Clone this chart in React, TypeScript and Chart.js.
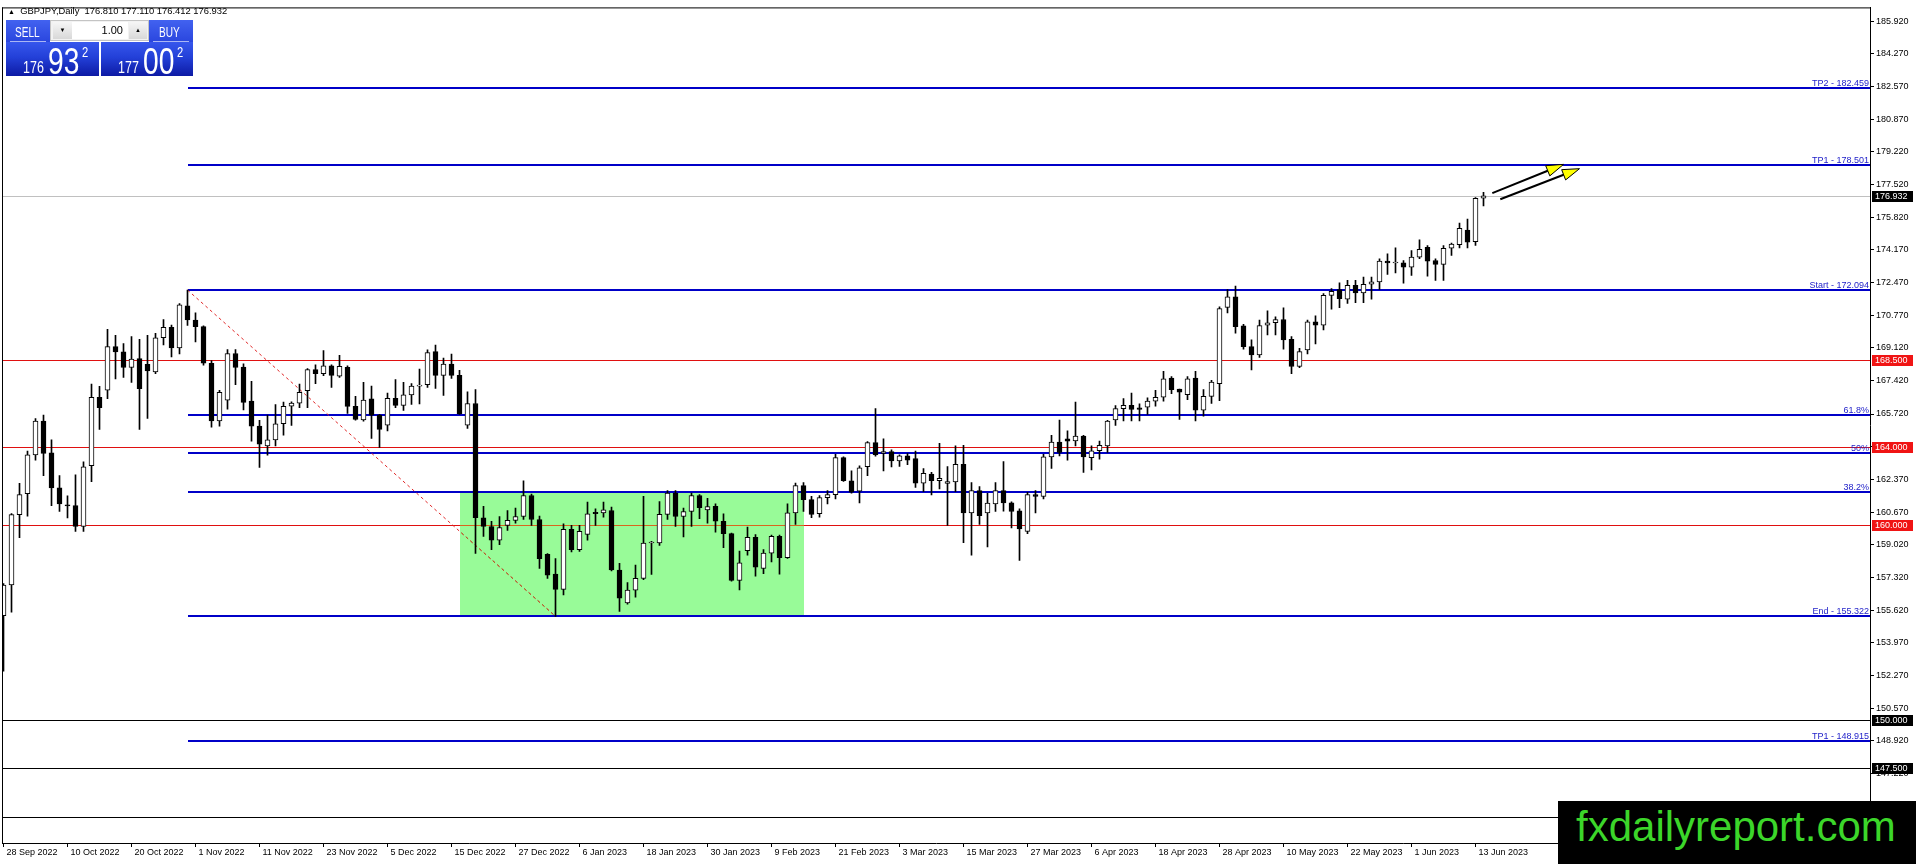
import React, { useEffect, useRef } from "react";
import { Chart, registerables } from "chart.js";

Chart.register(...registerables);

// ---------------- DATA ----------------
const SYMBOL_TITLE = "GBPJPY,Daily  176.810 177.110 176.412 176.932";

const X_LABELS = [
  "28 Sep 2022", "10 Oct 2022", "20 Oct 2022", "1 Nov 2022", "11 Nov 2022", "23 Nov 2022",
  "5 Dec 2022", "15 Dec 2022", "27 Dec 2022", "6 Jan 2023", "18 Jan 2023", "30 Jan 2023",
  "9 Feb 2023", "21 Feb 2023", "3 Mar 2023", "15 Mar 2023", "27 Mar 2023", "6 Apr 2023",
  "18 Apr 2023", "28 Apr 2023", "10 May 2023", "22 May 2023", "1 Jun 2023", "13 Jun 2023",
];
const BARS_PER_LABEL = 8;

const Y_TICKS = [
  185.92, 184.27, 182.57, 180.87, 179.22, 177.52, 175.82, 174.17, 172.47, 170.77, 169.12,
  167.42, 165.72, 164.07, 162.37, 160.67, 159.02, 157.32, 155.62, 153.97, 152.27, 150.57,
  148.92, 147.22, 145.52, 143.87,
];

const OPEN = [
  155.35, 156.93, 160.55, 161.63, 163.62, 165.36, 163.72, 161.93, 161.05, 161.01,
  159.94, 163.06, 166.58, 166.94, 169.18, 168.91, 168.11, 168.57, 168.28, 167.89,
  169.64, 170.17, 169.12, 171.28, 170.55, 170.21, 168.33, 165.36, 166.43, 168.83,
  168.13, 166.39, 165.10, 164.08, 164.39, 165.22, 166.12, 166.28, 166.92, 168.00,
  167.79, 168.20, 167.66, 168.12, 166.11, 165.41, 166.50, 165.66, 165.15, 166.53,
  166.16, 166.70, 167.15, 167.23, 168.93, 167.71, 168.29, 167.71, 165.15, 166.26,
  160.39, 159.94, 159.23, 160.00, 160.25, 160.45, 161.53, 160.30, 158.51, 157.49,
  156.71, 159.79, 158.75, 159.53, 160.67, 160.64, 160.76, 157.70, 156.01, 156.67,
  157.27, 159.09, 159.09, 160.56, 161.65, 160.45, 160.71, 161.53, 160.79, 160.98,
  160.21, 159.57, 157.17, 158.70, 159.38, 157.78, 158.57, 159.43, 158.34, 160.64,
  162.04, 161.32, 160.60, 161.42, 161.58, 163.48, 162.29, 161.75, 163.01, 164.25,
  163.69, 163.79, 163.31, 163.57, 163.43, 162.17, 162.63, 162.29, 162.15, 162.23,
  163.14, 160.64, 161.78, 160.64, 161.10, 161.78, 161.15, 160.75, 159.69, 161.58,
  161.48, 163.52, 164.28, 164.45, 164.34, 164.59, 163.48, 163.83, 164.08, 165.41,
  166.00, 166.17, 166.04, 166.07, 166.38, 166.58, 167.57, 167.00, 166.72, 167.57,
  165.92, 166.63, 167.28, 171.20, 171.74, 170.25, 169.18, 168.76, 170.29, 170.41,
  170.58, 169.56, 168.16, 169.02, 170.46, 170.29, 171.82, 172.11, 171.62, 172.34,
  171.94, 172.39, 172.51, 173.58, 173.48, 173.49, 173.27, 173.78, 174.29, 173.61,
  173.41, 174.24, 174.43, 175.18, 174.58, 176.81,
];

const HIGH = [
  157.00, 160.60, 162.16, 163.82, 165.49, 165.66, 164.39, 162.55, 161.52, 162.60,
  163.26, 167.26, 167.14, 170.07, 169.76, 169.34, 169.70, 169.56, 169.76, 169.87,
  170.58, 170.29, 171.40, 172.094, 170.92, 170.25, 168.47, 166.94, 169.03, 169.03,
  168.30, 167.40, 165.40, 165.66, 166.21, 166.33, 166.34, 167.26, 168.05, 168.25,
  168.98, 168.25, 168.73, 168.20, 166.63, 167.35, 167.15, 165.70, 166.80, 167.49,
  167.35, 167.28, 168.03, 169.02, 169.26, 168.60, 168.80, 167.96, 166.86, 166.98,
  160.97, 160.20, 160.45, 160.76, 160.88, 162.29, 161.60, 160.47, 158.55, 158.29,
  160.08, 160.00, 160.00, 161.19, 160.84, 161.19, 160.93, 158.04, 157.05, 157.95,
  161.49, 159.18, 161.22, 161.78, 161.78, 160.88, 161.65, 161.58, 161.39, 161.10,
  160.59, 159.60, 158.68, 159.91, 159.52, 158.75, 159.50, 159.50, 161.10, 162.17,
  162.20, 161.49, 161.53, 161.78, 163.65, 163.52, 162.80, 163.06, 164.30, 166.00,
  164.45, 163.88, 163.62, 163.69, 163.82, 162.92, 162.72, 164.21, 163.02, 164.08,
  164.11, 162.20, 161.99, 161.64, 162.20, 163.28, 161.20, 160.84, 161.70, 161.78,
  163.65, 164.62, 165.41, 164.85, 166.33, 164.62, 164.08, 164.33, 165.40, 166.15,
  166.51, 166.80, 166.24, 166.55, 166.94, 167.91, 167.65, 167.00, 167.65, 167.91,
  166.97, 167.45, 171.23, 172.11, 172.30, 170.33, 169.53, 170.55, 171.02, 170.72,
  171.18, 169.70, 169.10, 170.55, 170.77, 171.91, 172.17, 172.46, 172.59, 172.59,
  172.76, 172.76, 173.70, 173.95, 174.26, 173.61, 174.12, 174.67, 174.38, 173.70,
  174.38, 174.50, 175.54, 175.74, 176.85, 177.11,
];

const LOW = [
  152.50, 155.53, 159.36, 160.47, 163.35, 162.55, 161.01, 160.71, 160.38, 159.69,
  159.69, 162.24, 164.93, 166.51, 167.53, 167.60, 167.35, 164.93, 165.49, 167.79,
  169.27, 168.66, 168.81, 170.27, 169.42, 168.23, 165.05, 165.10, 165.97, 167.23,
  165.93, 164.33, 162.97, 163.60, 164.08, 164.63, 165.14, 166.04, 166.04, 167.28,
  167.69, 167.09, 167.60, 165.75, 165.40, 165.35, 164.47, 164.00, 164.85, 166.04,
  165.90, 166.21, 166.24, 167.09, 167.04, 166.67, 167.55, 165.70, 164.98, 158.55,
  159.43, 158.75, 159.01, 159.74, 160.11, 160.30, 160.00, 157.78, 157.27, 155.322,
  156.42, 158.63, 158.66, 159.23, 160.00, 160.42, 157.65, 155.57, 155.95, 156.30,
  157.20, 157.48, 158.97, 160.30, 159.94, 159.40, 159.94, 160.34, 160.11, 159.65,
  158.85, 157.13, 156.68, 158.46, 157.39, 157.52, 158.12, 157.49, 158.30, 160.05,
  160.71, 160.39, 160.42, 161.10, 161.36, 162.25, 161.65, 161.15, 162.55, 163.55,
  162.79, 163.00, 163.02, 163.11, 161.95, 161.73, 161.56, 161.87, 160.00, 161.73,
  159.11, 158.46, 160.04, 158.89, 160.71, 160.73, 159.87, 158.20, 159.57, 160.64,
  161.36, 162.92, 163.57, 163.35, 164.08, 162.72, 162.84, 163.40, 163.74, 165.13,
  165.36, 165.36, 165.36, 165.70, 166.12, 166.38, 166.77, 165.44, 166.46, 165.36,
  165.61, 166.26, 166.41, 170.92, 169.87, 169.05, 167.99, 168.63, 169.78, 169.78,
  169.05, 167.79, 168.10, 168.81, 169.32, 170.04, 171.11, 171.18, 171.40, 171.44,
  171.44, 171.62, 172.13, 172.90, 172.97, 172.45, 172.85, 173.70, 172.80, 172.59,
  172.59, 173.87, 174.26, 174.26, 174.38, 176.412,
];

const CLOSE = [
  156.93, 160.55, 161.58, 163.62, 165.36, 163.70, 161.92, 161.10, 161.00, 159.94,
  163.00, 166.58, 166.04, 169.18, 168.91, 168.11, 168.55, 167.02, 167.94, 169.64,
  170.17, 169.12, 171.33, 170.55, 170.21, 168.33, 165.36, 166.84, 168.83, 168.11,
  166.32, 165.10, 164.17, 164.39, 165.22, 166.12, 166.28, 166.84, 168.00, 167.79,
  168.20, 167.71, 168.17, 166.11, 165.44, 166.43, 165.66, 164.93, 166.53, 166.16,
  166.70, 167.15, 167.20, 168.88, 167.71, 168.29, 167.71, 165.73, 166.26, 160.39,
  159.94, 159.23, 159.88, 160.25, 160.45, 161.53, 160.30, 158.29, 157.44, 156.71,
  159.79, 158.75, 159.69, 160.59, 160.60, 160.79, 157.70, 156.25, 156.67, 157.27,
  159.09, 159.10, 160.56, 161.65, 160.45, 160.71, 161.53, 160.90, 160.96, 160.21,
  159.57, 157.17, 158.07, 159.38, 157.85, 158.57, 159.43, 158.34, 160.64, 162.04,
  161.32, 160.56, 161.42, 161.58, 163.48, 162.29, 161.70, 162.96, 164.25, 163.62,
  163.79, 163.31, 163.57, 163.35, 162.17, 162.67, 162.29, 162.41, 162.25, 163.14,
  160.64, 161.78, 160.50, 161.14, 161.78, 161.15, 160.71, 159.82, 161.58, 161.48,
  163.52, 164.28, 163.74, 164.32, 164.59, 163.52, 163.83, 164.11, 165.36, 166.00,
  166.17, 165.95, 165.95, 166.38, 166.58, 167.53, 166.97, 166.84, 167.53, 165.92,
  166.63, 167.36, 171.14, 171.74, 170.21, 169.18, 168.76, 170.26, 170.41, 170.58,
  169.53, 168.16, 168.93, 170.46, 170.29, 171.82, 172.03, 171.65, 172.34, 171.94,
  172.39, 172.51, 173.58, 173.48, 173.50, 173.27, 173.78, 174.18, 173.58, 173.41,
  174.24, 174.46, 175.27, 174.55, 176.80, 176.932,
];

// Fibonacci expansion levels and their descriptions
const FIB_LEVELS = [182.459, 178.501, 172.094, 165.687, 163.708, 161.729, 155.322, 148.915];
const FIB_TEXT = ["TP2 - 182.459", "TP1 - 178.501", "Start - 172.094", "61.8%", "50%", "38.2%", "End - 155.322", "TP1 - 148.915"];
const FIB_START_BAR = 23;
const FIB_END_BAR = 69;
const FIB_START_PRICE = 172.094;
const FIB_END_PRICE = 155.322;

const RED_LEVELS = [168.5, 164.0, 160.0];
const BLACK_LEVELS = [150.0, 147.5, 145.0];
const BID_PRICE = 176.932;

// rectangle (bar from, bar to) and (price top, price bottom)
const BOX_BARS = [57, 100];
const BOX_PRICES = [161.729, 155.322];

// arrows: [barFrom, priceFrom, barTo, priceTo]
const ARROWS = [
  [186.1, 177.07, 195.0, 178.55],
  [187.1, 176.76, 197.0, 178.33],
];

const AXIS_TAG_VALUES = [176.932, 168.5, 164.0, 160.0, 150.0, 147.5, 145.0];
const AXIS_TAG_KIND = ["bid", "red", "red", "red", "black", "black", "black"];

// ---------------- STYLE ----------------
const FONT = "'Liberation Sans', Arial, sans-serif";
const BLUE = "#0000c8";
const RED = "#e01010";

const Y_MIN = 143.67;
const Y_MAX = 186.62;
const X_MIN = -0.1875;
const X_MAX = 233.3125;

const overlayPlugin = {
  id: "overlay",
  beforeDatasetsDraw(chart: any) {
    const { ctx, chartArea: a, scales } = chart;
    const x = scales.x;
    const y = scales.y;
    ctx.save();
    ctx.beginPath();
    ctx.rect(a.left, a.top, a.right - a.left, a.bottom - a.top);
    ctx.clip();

    // green rectangle
    const bx0 = Math.round(x.getPixelForValue(BOX_BARS[0]));
    const bx1 = Math.round(x.getPixelForValue(BOX_BARS[1]));
    const by0 = Math.round(y.getPixelForValue(BOX_PRICES[0]));
    const by1 = Math.round(y.getPixelForValue(BOX_PRICES[1]));
    ctx.fillStyle = "#98fb98";
    ctx.fillRect(bx0, by0, bx1 - bx0, by1 - by0);

    const hline = (v: number, x0: number, x1: number, color: string, w: number) => {
      const py = Math.round(y.getPixelForValue(v));
      ctx.fillStyle = color;
      ctx.fillRect(x0, w === 1 ? py : py - 1, x1 - x0, w);
    };

    hline(BID_PRICE, a.left, a.right, "#c0c0c0", 1);
    BLACK_LEVELS.forEach((v) => hline(v, a.left, a.right, "#000000", 1));
    RED_LEVELS.forEach((v) => hline(v, a.left, a.right, RED, 1));
    RED_LEVELS.forEach((v) => {
      if (v < BOX_PRICES[0] && v > BOX_PRICES[1]) hline(v, bx0, bx1, "#d8661e", 1);
    });

    const fx = Math.round(x.getPixelForValue(FIB_START_BAR));
    FIB_LEVELS.forEach((v) => hline(v, fx, a.right, BLUE, 2));

    // diagonal dashed trend line
    const dx0 = x.getPixelForValue(FIB_START_BAR);
    const dy0 = y.getPixelForValue(FIB_START_PRICE);
    const dx1 = x.getPixelForValue(FIB_END_BAR);
    const dy1 = y.getPixelForValue(FIB_END_PRICE);
    ctx.setLineDash([3, 3]);
    ctx.lineWidth = 1;
    ctx.strokeStyle = "#e02828";
    ctx.beginPath();
    ctx.moveTo(dx0, dy0);
    ctx.lineTo(dx1, dy1);
    ctx.stroke();
    ctx.save();
    ctx.beginPath();
    ctx.rect(bx0, by0, bx1 - bx0, by1 - by0);
    ctx.clip();
    ctx.strokeStyle = "#b0602a";
    ctx.beginPath();
    ctx.moveTo(dx0, dy0);
    ctx.lineTo(dx1, dy1);
    ctx.stroke();
    ctx.restore();
    ctx.setLineDash([]);

    // level descriptions
    ctx.font = `9px ${FONT}`;
    ctx.fillStyle = "#1c1cc8";
    ctx.textAlign = "right";
    ctx.textBaseline = "alphabetic";
    FIB_LEVELS.forEach((v, i) => {
      const py = Math.round(y.getPixelForValue(v));
      ctx.fillText(FIB_TEXT[i], a.right - 1, py - 2);
    });

    ctx.restore();
  },
  afterDatasetsDraw(chart: any) {
    const { ctx, scales } = chart;
    const x = scales.x;
    const y = scales.y;
    ctx.save();
    ARROWS.forEach(([b0, p0, b1, p1]) => {
      const x0 = x.getPixelForValue(b0);
      const y0 = y.getPixelForValue(p0);
      const x1 = x.getPixelForValue(b1);
      const y1 = y.getPixelForValue(p1);
      const len = Math.hypot(x1 - x0, y1 - y0);
      const ux = (x1 - x0) / len;
      const uy = (y1 - y0) / len;
      const head = 17;
      const half = 5.5;
      const bxp = x1 - ux * head;
      const byp = y1 - uy * head;
      ctx.strokeStyle = "#000";
      ctx.lineWidth = 2;
      ctx.beginPath();
      ctx.moveTo(x0, y0);
      ctx.lineTo(bxp, byp);
      ctx.stroke();
      ctx.beginPath();
      ctx.moveTo(x1, y1);
      ctx.lineTo(bxp - uy * half, byp + ux * half);
      ctx.lineTo(bxp + uy * half, byp - ux * half);
      ctx.closePath();
      ctx.fillStyle = "#ffff00";
      ctx.fill();
      ctx.lineWidth = 1;
      ctx.stroke();
    });
    ctx.restore();
  },
  afterDraw(chart: any) {
    const { ctx, chartArea: a, scales } = chart;
    const y = scales.y;
    ctx.save();
    ctx.fillStyle = "#000";
    ctx.fillRect(a.left, a.top, 1, a.bottom - a.top);
    ctx.fillRect(a.left, a.top, a.right - a.left, 1);
    ctx.font = `9px ${FONT}`;
    ctx.textAlign = "left";
    ctx.textBaseline = "middle";
    AXIS_TAG_VALUES.forEach((v, i) => {
      const py = Math.round(y.getPixelForValue(v));
      const kind = AXIS_TAG_KIND[i];
      ctx.fillStyle = kind === "red" ? "#f01414" : "#000000";
      ctx.fillRect(a.right + 2, py - 5, 41, 11);
      ctx.fillStyle = "#ffffff";
      ctx.fillText(v.toFixed(3), a.right + 5, py + 0.5);
    });
    ctx.restore();
  },
};

// condensed text: regular font squeezed horizontally
function Squeeze({ left, top, size, sx, children }: { left: number; top: number; size: number; sx: number; children: string }) {
  return (
    <div
      style={{
        position: "absolute",
        left,
        top,
        font: `${size}px ${FONT}`,
        lineHeight: `${size}px`,
        whiteSpace: "nowrap",
        transform: `scaleX(${sx})`,
        transformOrigin: "0 0",
      }}
    >
      {children}
    </div>
  );
}

function PriceBox({ left, width, small, big, sup }: { left: number; width: number; small: string; big: string; sup: string }) {
  return (
    <div
      style={{
        position: "absolute",
        left,
        top: 42,
        width,
        height: 34,
        background: "linear-gradient(to bottom, #3656ec 0%, #2340d8 45%, #0d1aa4 100%)",
        color: "#fff",
        overflow: "hidden",
      }}
    >
      <Squeeze left={17} top={18} size={16} sx={0.78}>{small}</Squeeze>
      <Squeeze left={42} top={1} size={37} sx={0.76}>{big}</Squeeze>
      <Squeeze left={76} top={3} size={14} sx={0.8}>{sup}</Squeeze>
    </div>
  );
}

function HeaderBox({ left, label, textLeft }: { left: number; label: string; textLeft: number }) {
  return (
    <div
      style={{
        position: "absolute",
        left,
        top: 20,
        width: 44,
        height: 22,
        background: "linear-gradient(to bottom, #4262f0 0%, #2a46de 100%)",
        color: "#fff",
      }}
    >
      <Squeeze left={textLeft} top={5} size={14} sx={0.72}>{label}</Squeeze>
      <div style={{ position: "absolute", left: 4, right: 4, top: 21, height: 1, background: "#aab6f4" }} />
    </div>
  );
}

function TradePanel() {
  const btn = {
    position: "absolute" as const,
    top: 1,
    height: 17,
    background: "linear-gradient(#f6f6f6, #d8d8d8)",
    font: `6px ${FONT}`,
    lineHeight: "17px",
    textAlign: "center" as const,
    color: "#000",
  };
  return (
    <>
      <div
        style={{
          position: "absolute",
          left: 8,
          top: 5,
          font: `9.4px ${FONT}`,
          lineHeight: "11px",
          color: "#000",
          whiteSpace: "pre",
        }}
      >
        <span style={{ fontSize: 7 }}>▲</span>
        {"  " + SYMBOL_TITLE}
      </div>
      <HeaderBox left={6} label="SELL" textLeft={9} />
      <HeaderBox left={149} label="BUY" textLeft={10} />
      <div
        style={{
          position: "absolute",
          left: 50,
          top: 20,
          width: 99,
          height: 21,
          boxSizing: "border-box",
          background: "#f2f2f2",
          border: "1px solid #c4c4c4",
        }}
      >
        <div style={{ ...btn, left: 2, width: 19 }}>▼</div>
        <div
          style={{
            position: "absolute",
            left: 21,
            top: 1,
            width: 56,
            height: 17,
            background: "#fff",
            font: `11px ${FONT}`,
            lineHeight: "17px",
            textAlign: "right",
            paddingRight: 5,
            boxSizing: "border-box",
            color: "#000",
          }}
        >
          1.00
        </div>
        <div style={{ ...btn, left: 78, width: 18 }}>▲</div>
      </div>
      <PriceBox left={6} width={93} small="176" big="93" sup="2" />
      <PriceBox left={101} width={92} small="177" big="00" sup="2" />
    </>
  );
}

export default function App() {
  const canvasRef = useRef<HTMLCanvasElement | null>(null);

  useEffect(() => {
    const canvas = canvasRef.current;
    if (!canvas) return;
    const bodies = OPEN.map((o, i) => ({ x: i, y: [o, CLOSE[i]] }));
    const wicks = LOW.map((l, i) => ({ x: i, y: [l, HIGH[i]] }));
    const chart = new Chart(canvas, {
      type: "bar",
      data: {
        datasets: [
          {
            label: "body",
            data: bodies as any,
            backgroundColor: (c: any) => (CLOSE[c.dataIndex] >= OPEN[c.dataIndex] ? "#ffffff" : "#000000"),
            borderColor: "#000000",
            borderWidth: 1,
            borderSkipped: false,
            barThickness: 5,
            minBarLength: 1,
            grouped: false,
            order: 0,
          } as any,
          {
            label: "wick",
            data: wicks as any,
            backgroundColor: "#000000",
            borderWidth: 0,
            barThickness: 1,
            grouped: false,
            order: 1,
          } as any,
        ],
      },
      options: {
        animation: false,
        responsive: false,
        devicePixelRatio: 1,
        events: [],
        layout: { padding: { left: 2, top: 2, right: 0, bottom: 0 } },
        plugins: { legend: { display: false }, tooltip: { enabled: false }, title: { display: false } },
        scales: {
          x: {
            type: "linear",
            min: X_MIN,
            max: X_MAX,
            offset: false,
            grid: { display: true, drawOnChartArea: false, drawTicks: true, tickLength: 4, color: "#000", offset: false },
            border: { display: true, color: "#000", width: 1 },
            ticks: {
              autoSkip: false,
              maxRotation: 0,
              minRotation: 0,
              align: "start",
              labelOffset: 3,
              padding: 0,
              color: "#000",
              font: { family: FONT, size: 9 },
              callback: (v: any) => X_LABELS[Math.round(Number(v) / BARS_PER_LABEL)] ?? "",
            },
            afterBuildTicks: (s: any) => {
              s.ticks = X_LABELS.map((_, k) => ({ value: k * BARS_PER_LABEL }));
            },
            afterFit: (s: any) => {
              s.height = 21;
            },
          } as any,
          y: {
            type: "linear",
            position: "right",
            min: Y_MIN,
            max: Y_MAX,
            grid: { display: true, drawOnChartArea: false, drawTicks: true, tickLength: 4, color: "#000" },
            border: { display: true, color: "#000", width: 1 },
            ticks: {
              padding: 2,
              color: "#000",
              font: { family: FONT, size: 9 },
              callback: (v: any) => Number(v).toFixed(3),
            },
            afterBuildTicks: (s: any) => {
              s.ticks = Y_TICKS.map((v) => ({ value: v }));
            },
            afterFit: (s: any) => {
              s.width = 46;
            },
          } as any,
        },
      } as any,
      plugins: [overlayPlugin],
    });
    return () => chart.destroy();
  }, []);

  return (
    <div
      style={{
        position: "fixed",
        left: 0,
        top: 0,
        width: 1916,
        height: 864,
        background: "#ffffff",
        overflow: "hidden",
      }}
    >
      <canvas ref={canvasRef} width={1916} height={864} style={{ display: "block", width: 1916, height: 864 }} />
      <TradePanel />
      <div
        style={{
          position: "absolute",
          left: 1558,
          top: 801,
          width: 358,
          height: 63,
          background: "#000",
          overflow: "hidden",
        }}
      >
        <div
          style={{
            position: "absolute",
            left: 18,
            top: 5,
            font: `42px ${FONT}`,
            lineHeight: "42px",
            color: "#3cd62a",
            whiteSpace: "nowrap",
          }}
        >
          fxdailyreport.com
        </div>
      </div>
    </div>
  );
}
